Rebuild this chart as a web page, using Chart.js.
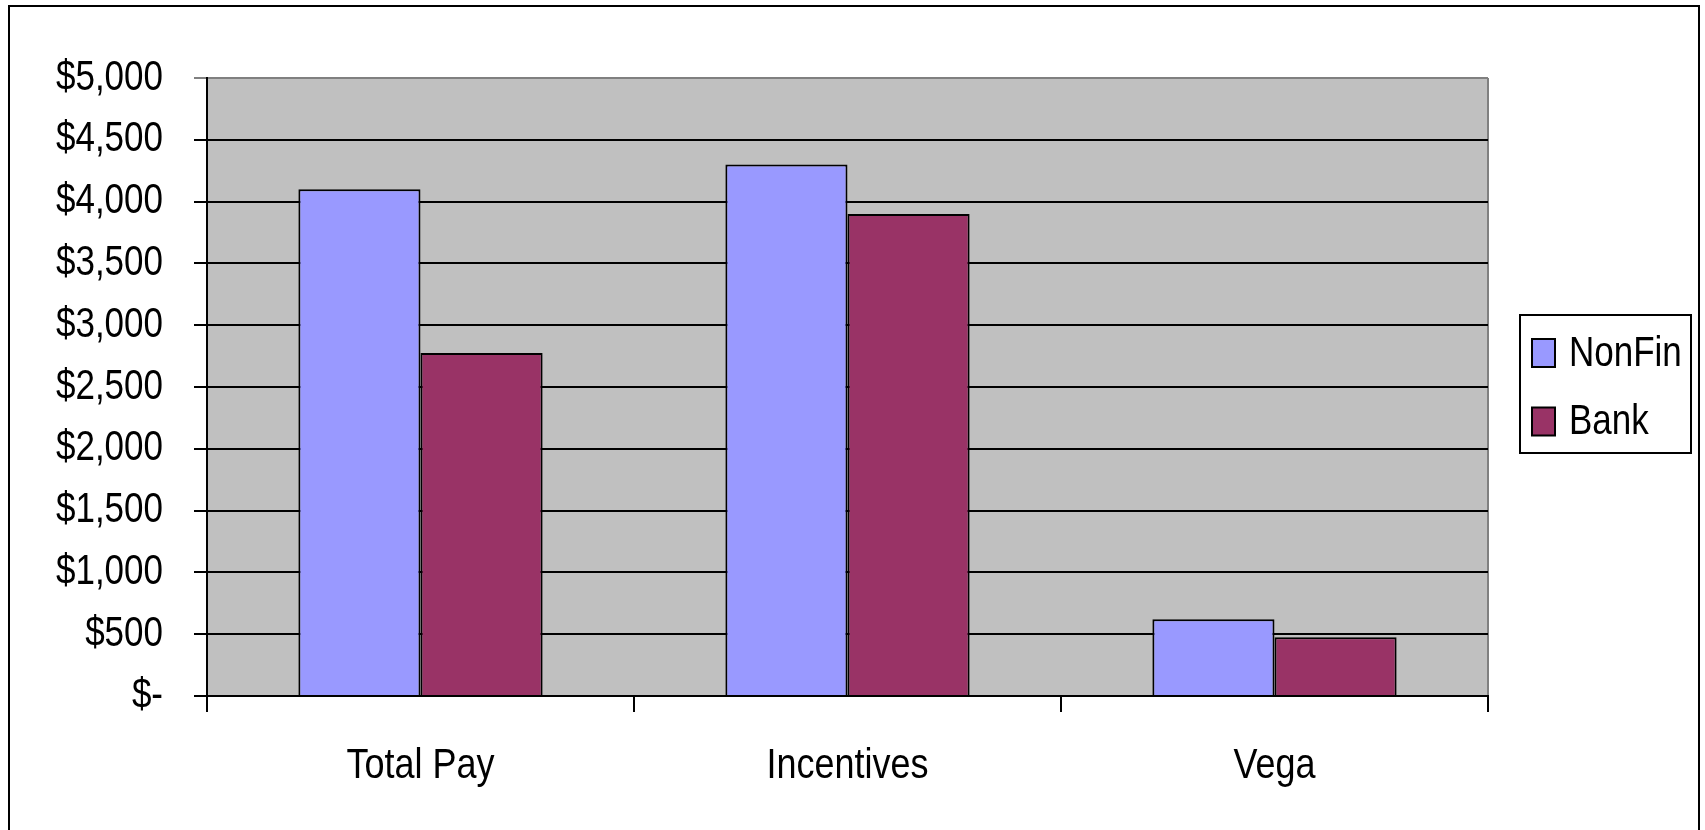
<!DOCTYPE html>
<html>
<head>
<meta charset="utf-8">
<script src="https://cdn.jsdelivr.net/npm/chart.js@4/dist/chart.umd.min.js"></script>
<style>
html,body{margin:0;padding:0;background:#fff;}
#wrap{width:1705px;height:830px;position:relative;}
</style>
</head>
<body>
<div id="wrap"><canvas id="c" width="1705" height="830"></canvas></div>
<script>
const categories = ['Total Pay', 'Incentives', 'Vega'];
const seriesNames = ['NonFin', 'Bank'];
const nonFinValues = [4100, 4300, 620];
const bankValues = [2775, 3900, 475];
const yTickValues = [0, 500, 1000, 1500, 2000, 2500, 3000, 3500, 4000, 4500, 5000];
const yTickLabels = ['$-', '$500', '$1,000', '$1,500', '$2,000', '$2,500', '$3,000', '$3,500', '$4,000', '$4,500', '$5,000'];
const seriesColors = ['#9999FF', '#993366'];

const FONT = '"Liberation Sans", Arial, sans-serif';
const FSIZE = 35;
const TEXT_STRETCH = 1.2; // reference text is drawn vertically stretched

const canvas = document.getElementById('c');
const ctx0 = canvas.getContext('2d');
const origFillText = ctx0.fillText.bind(ctx0);
ctx0.fillText = function (t, x, y, mw) {
  this.save();
  this.translate(x, y);
  this.scale(1, TEXT_STRETCH);
  if (mw === undefined) origFillText(t, 0, 0); else origFillText(t, 0, 0, mw);
  this.restore();
};

const framePlugin = {
  id: 'frame',
  beforeDraw(chart) {
    const ctx = chart.ctx, a = chart.chartArea;
    ctx.save();
    ctx.fillStyle = '#fff';
    ctx.fillRect(0, 0, chart.width, chart.height);
    ctx.fillStyle = '#C0C0C0';
    ctx.fillRect(a.left, a.top, a.right - a.left, a.bottom - a.top);
    ctx.strokeStyle = '#808080';
    ctx.lineWidth = 2;
    ctx.beginPath();
    ctx.moveTo(a.right, a.top);
    ctx.lineTo(a.right, a.bottom);
    ctx.stroke();
    ctx.restore();
  },
  afterDraw(chart) {
    const ctx = chart.ctx;
    ctx.save();
    ctx.strokeStyle = '#000';
    ctx.lineWidth = 2;
    ctx.strokeRect(9, 6, 1690, 840);
    // legend
    const lx = 1520, ly = 315, lw = 171, lh = 138;
    ctx.strokeRect(lx, ly, lw, lh);
    ctx.font = FSIZE + 'px ' + FONT;
    ctx.textBaseline = 'middle';
    ctx.textAlign = 'left';
    chart.data.datasets.forEach((ds, i) => {
      const cy = 353 + i * 68.5;
      ctx.fillStyle = ds.backgroundColor;
      ctx.fillRect(1532, cy - 14, 23, 28);
      ctx.strokeStyle = '#000';
      ctx.lineWidth = 2;
      ctx.strokeRect(1532, cy - 14, 23, 28);
      ctx.fillStyle = '#000';
      ctx.fillText(ds.label, 1569, cy + 1);
    });
    ctx.restore();
  }
};

new Chart(canvas, {
  type: 'bar',
  data: {
    labels: categories,
    datasets: [
      { label: seriesNames[0], data: nonFinValues, backgroundColor: seriesColors[0], borderColor: '#000', borderWidth: 2, borderSkipped: 'bottom' },
      { label: seriesNames[1], data: bankValues, backgroundColor: seriesColors[1], borderColor: '#000', borderWidth: 2, borderSkipped: 'bottom' }
    ]
  },
  options: {
    responsive: false,
    animation: false,
    devicePixelRatio: 1,
    layout: { padding: { left: 0, right: 217, top: 78, bottom: 0 } },
    plugins: { legend: { display: false }, tooltip: { enabled: false } },
    datasets: { bar: { categoryPercentage: 0.572, barPercentage: 1.0 } },
    scales: {
      x: {
        offset: true,
        grid: { offset: true, drawOnChartArea: false, drawTicks: true, tickLength: 16, color: '#000', lineWidth: 2 },
        border: { display: true, color: '#000', width: 2 },
        ticks: { color: '#000', font: { family: FONT, size: 36 }, padding: 32, maxRotation: 0 },
        afterFit(s) { s.height = 134; }
      },
      y: {
        min: 0, max: 5000,
        afterBuildTicks(s) { s.ticks = yTickValues.map(v => ({ value: v })); },
        grid: {
          color: (c) => (c.tick && c.tick.value === 5000 ? '#808080' : '#000'),
          lineWidth: 2, tickLength: 13, drawTicks: true
        },
        border: { display: true, color: '#000', width: 2 },
        ticks: {
          color: '#000', font: { family: FONT, size: FSIZE }, padding: 31,
          callback: (v) => yTickLabels[yTickValues.indexOf(v)]
        },
        afterFit(s) { s.width = 207; }
      }
    }
  },
  plugins: [framePlugin]
});
</script>
</body>
</html>
